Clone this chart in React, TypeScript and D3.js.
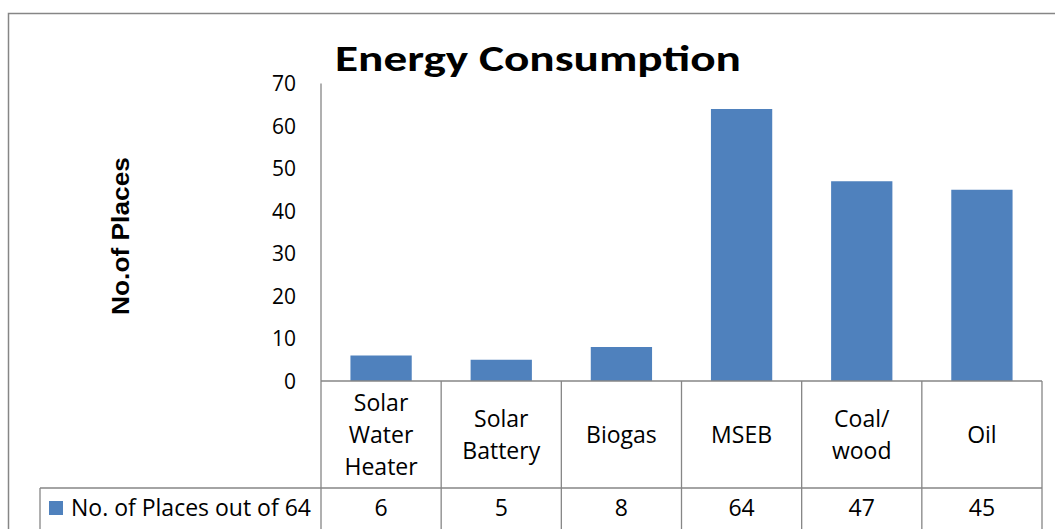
import React from "react";
import * as d3 from "d3";

const categories = ["Solar Water Heater", "Solar Battery", "Biogas", "MSEB", "Coal/ wood", "Oil"];
const categoryLines = [["Solar", "Water", "Heater"], ["Solar", "Battery"], ["Biogas"], ["MSEB"], ["Coal/", "wood"], ["Oil"]];
const values = [6, 5, 8, 64, 47, 45];
const yTicks = [0, 10, 20, 30, 40, 50, 60, 70];
const seriesName = "No. of Places out of 64";
const chartTitle = "Energy Consumption";
const yTitle = "No.of Places";

const W = 1055;
const H = 529;
const GRID = "#868686";
const BAR = "#4F81BD";
const FONT = "'Open Sans', Carlito, Lato, sans-serif";
const TFONT = "Carlito, Lato, 'Open Sans', sans-serif";

export default function App() {
  const x = d3.scaleBand<string>().domain(categories).range([321, 1042]).padding(0);
  const y = d3.scaleLinear().domain([0, 70]).range([381, 83.5]);
  const bw = x.bandwidth();
  const barW = bw * 0.51;
  const headTop = 381;
  const headBottom = 488;
  const headMid = (headTop + headBottom) / 2;
  const lineH = 32;

  return (
    <svg width={W} height={H} style={{ position: "absolute", left: 0, top: 0, background: "#fff" }}>
      {/* outer chart border */}
      <rect x={8.5} y={13.5} width={W + 20} height={H + 20} fill="none" stroke={GRID} strokeWidth={1.5} />

      {/* title */}
      <text x={538} y={71} textAnchor="middle" fontFamily={TFONT} fontWeight="bold" fontSize={36} fill="#000" textLength={406} lengthAdjust="spacingAndGlyphs">
        {chartTitle}
      </text>

      {/* y axis title */}
      <text transform="translate(129,236) rotate(-90)" textAnchor="middle" fontFamily="'Liberation Sans', Arial, sans-serif" fontWeight="bold" fontSize={24} fill="#000" textLength={158} lengthAdjust="spacingAndGlyphs">
        {yTitle}
      </text>

      {/* y tick labels */}
      {yTicks.map((t) => (
        <text key={t} x={296} y={y(t)} dy="0.36em" textAnchor="end" fontFamily={FONT} fontSize={21} fill="#000">
          {t}
        </text>
      ))}

      {/* bars */}
      {values.map((v, i) => (
        <rect key={categories[i]} x={(x(categories[i]) as number) + (bw - barW) / 2} y={y(v)} width={barW} height={y(0) - y(v)} fill={BAR} />
      ))}

      {/* y axis line */}
      <line x1={321} x2={321} y1={y(70)} y2={H} stroke={GRID} strokeWidth={1.3} />
      {/* zero / table top */}
      <line x1={321} x2={1042} y1={y(0)} y2={y(0)} stroke={GRID} strokeWidth={1.3} />
      {/* table row separator */}
      <line x1={40} x2={1042} y1={headBottom} y2={headBottom} stroke={GRID} strokeWidth={1.3} />
      {/* legend cell left */}
      <line x1={40} x2={40} y1={headBottom} y2={H} stroke={GRID} strokeWidth={1.3} />
      {/* category separators */}
      {categories.map((c) => (
        <line key={c} x1={(x(c) as number) + bw} x2={(x(c) as number) + bw} y1={headTop} y2={H} stroke={GRID} strokeWidth={1.3} />
      ))}

      {/* category labels */}
      {categoryLines.map((lines, i) => {
        const cx = (x(categories[i]) as number) + bw / 2;
        const n = lines.length;
        return lines.map((ln, j) => (
          <text key={i + "-" + j} x={cx} y={headMid + (j - (n - 1) / 2) * lineH} dy="0.36em" textAnchor="middle" fontFamily={FONT} fontSize={23} fill="#000">
            {ln}
          </text>
        ));
      })}

      {/* legend key */}
      <rect x={49} y={501} width={14} height={14} fill={BAR} />
      <text x={71} y={508} dy="0.36em" fontFamily={FONT} fontSize={23} fill="#000">
        {seriesName}
      </text>

      {/* data values */}
      {values.map((v, i) => (
        <text key={"v" + i} x={(x(categories[i]) as number) + bw / 2} y={508} dy="0.36em" textAnchor="middle" fontFamily={FONT} fontSize={23} fill="#000">
          {v}
        </text>
      ))}
    </svg>
  );
}
